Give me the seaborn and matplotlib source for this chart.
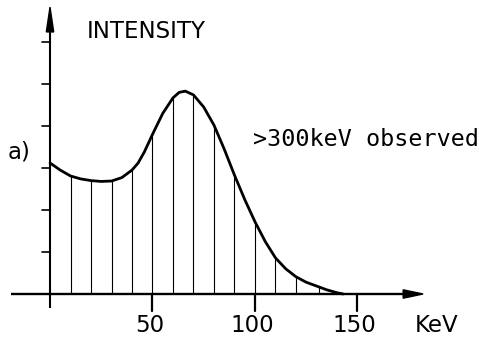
import numpy as np
import pandas as pd
import matplotlib
matplotlib.use("Agg")
import matplotlib.pyplot as plt
import seaborn as sns
from matplotlib.patches import Polygon

# ---- data ----
energy_kev = [0, 5, 10, 15, 20, 25, 30, 35, 40, 43, 46, 50, 55, 60, 63, 66, 70, 75,
              80, 85, 90, 95, 100, 105, 110, 115, 120, 125, 130, 135, 140, 143]
intensity = [3.12, 2.95, 2.81, 2.74, 2.70, 2.68, 2.69, 2.77, 2.95, 3.12, 3.38, 3.80,
             4.30, 4.67, 4.80, 4.83, 4.74, 4.45, 4.02, 3.45, 2.83, 2.25, 1.72,
             1.25, 0.86, 0.60, 0.41, 0.28, 0.19, 0.10, 0.03, 0.0]
hatch_kev = [10, 20, 30, 40, 50, 60, 70, 80, 90, 100, 110, 120, 131]
xtick_vals = [50, 100, 150]
xtick_labels = ["50", "100", "150"]
ytick_vals = [1, 2, 3, 4, 5, 6]

df = pd.DataFrame({"E": energy_kev, "I": intensity})

sns.set_theme(style="white")
plt.rcParams["font.family"] = ["DejaVu Sans"]

fig = plt.figure(figsize=(4.79, 3.42), dpi=100)
ax = fig.add_axes([0, 0, 1, 1])
ax.set_xlim(-24.4, 209.3)
ax.set_ylim(-1.143, 7.0)
ax.axis("off")

# curve
sns.lineplot(data=df, x="E", y="I", ax=ax, color="black", lw=2.0,
             estimator=None, sort=False, legend=False)

# hatch lines under curve
hh = np.interp(hatch_kev, energy_kev, intensity)
ax.vlines(hatch_kev, 0, hh, color="black", lw=0.8)

# axes lines
ax.plot([-19, 178], [0, 0], color="black", lw=1.7, solid_capstyle="butt")
ax.plot([0, 0], [-0.33, 6.3], color="black", lw=1.5, solid_capstyle="butt")

# arrow heads
ax.add_patch(Polygon([[172.3, 0.10], [182.0, 0.0], [172.3, -0.10]],
                     closed=True, color="black"))
ax.add_patch(Polygon([[-1.8, 6.24], [0, 6.83], [1.8, 6.24]],
                     closed=True, color="black"))

# y ticks (left side)
for yv in ytick_vals:
    ax.plot([-3.9, 0], [yv, yv], color="black", lw=1.2)

# x ticks (downward)
for xv in xtick_vals:
    ax.plot([xv, xv], [0, -0.40], color="black", lw=1.6)

for xv, lab in zip(xtick_vals, xtick_labels):
    ax.text(xv - 1.5, -0.74, lab, ha="center", va="center", fontsize=16.5,
            color="black", family="DejaVu Sans")

ax.text(188.5, -0.76, "KeV", ha="center", va="center", fontsize=16.5,
        color="black", family="DejaVu Sans")
ax.text(47.1, 6.26, "INTENSITY", ha="center", va="center", fontsize=16.5,
        color="black", family="DejaVu Sans")
ax.text(-20.7, 3.38, "a)", ha="left", va="center", fontsize=16.5,
        color="black", family="DejaVu Sans")
ax.text(98.8, 3.67, ">300keV observed", ha="left", va="center",
        fontsize=16.8, color="black", family="DejaVu Sans Mono")

fig.savefig("out.png", dpi=100)
